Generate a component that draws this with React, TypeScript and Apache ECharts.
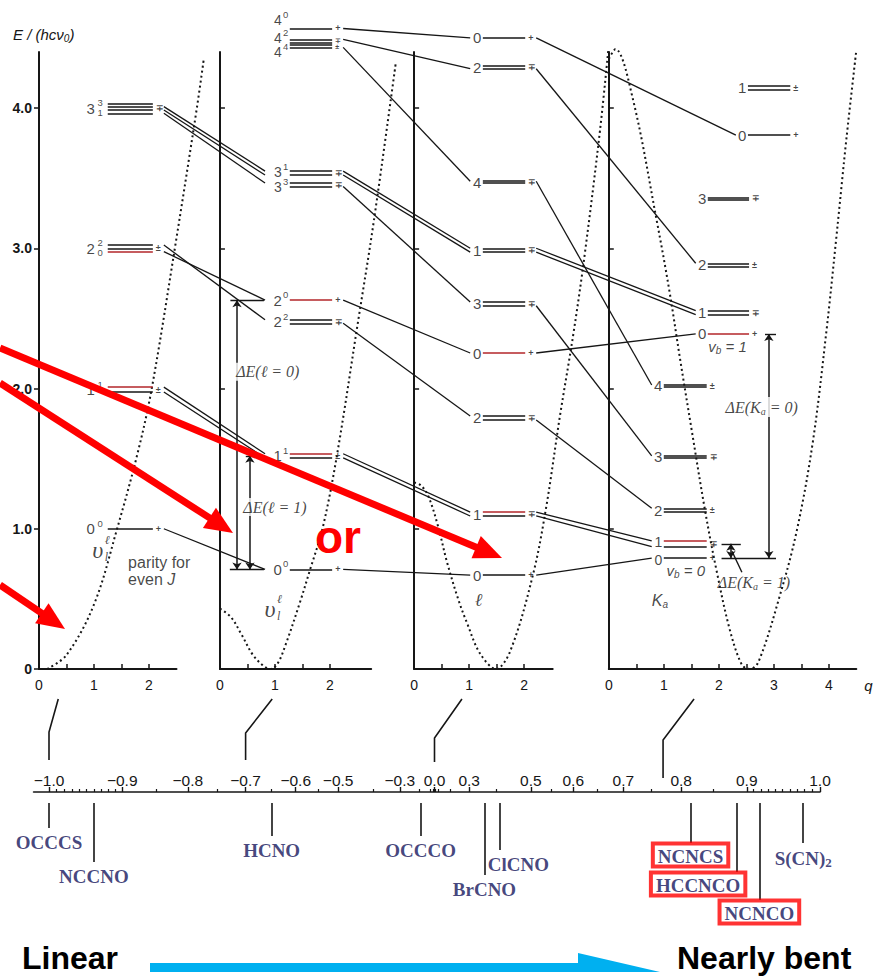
import React, { useEffect, useRef } from 'react';
import * as echarts from 'echarts';

// ---------- data ----------
type Level = { n: string; sup?: string; sub?: string; e: number[]; red?: number[]; parity: string; col?: number };

// Linear limit (γ0 = −1): levels v_l^ℓ, components listed top → bottom, energies in hcν0
const linearLevels: Level[] = [
  { n: '0', sup: '0', e: [1.0], parity: '+' },
  { n: '1', sup: '1', e: [2.01, 1.975], red: [0], parity: '±' },
  { n: '2', sup: '2', sub: '0', e: [3.023, 3.0, 2.976], red: [2], parity: '±' },
  { n: '3', sup: '3', sub: '1', e: [4.033, 4.01, 3.986, 3.962], parity: '∓' },
];

// Quasilinear (γ0 = −0.7)
const quasiLinearLevels: Level[] = [
  { n: '0', sup: '0', e: [0.71], parity: '+' },
  { n: '1', sup: '1', e: [1.535, 1.505], red: [0], parity: '±' },
  { n: '2', sup: '0', e: [2.63], red: [0], parity: '+' },
  { n: '2', sup: '2', e: [2.49, 2.465], parity: '∓' },
  { n: '3', sup: '1', e: [3.55, 3.522], parity: '∓' },
  { n: '3', sup: '3', e: [3.465, 3.44], parity: '∓' },
  { n: '4', sup: '0', e: [4.567], parity: '+' },
  { n: '4', sup: '2', e: [4.49, 4.468], parity: '∓' },
  { n: '4', sup: '4', e: [4.449, 4.432], parity: '±' },
];

// Midway (γ0 = 0), labelled by ℓ
const midwayLevels: Level[] = [
  { n: '0', e: [4.5], parity: '+' },
  { n: '2', e: [4.3, 4.28], parity: '∓' },
  { n: '4', e: [3.478, 3.464], parity: '∓' },
  { n: '1', e: [3.0, 2.972], parity: '∓' },
  { n: '3', e: [2.617, 2.59], parity: '∓' },
  { n: '0', e: [2.253], red: [0], parity: '+' },
  { n: '2', e: [1.804, 1.776], parity: '∓' },
  { n: '1', e: [1.119, 1.091], red: [0], parity: '∓' },
  { n: '0', e: [0.67], parity: '+' },
];

// Quasibent (γ0 ≈ 0.77), labelled by Ka, columns v_b = 0, 1, 2
const bentLevels: Level[] = [
  { n: '1', e: [4.16, 4.128], parity: '±', col: 2 },
  { n: '0', e: [3.807], parity: '+', col: 2 },
  { n: '3', e: [3.363, 3.349], parity: '∓', col: 1 },
  { n: '2', e: [2.893, 2.87], parity: '±', col: 1 },
  { n: '1', e: [2.555, 2.527], parity: '∓', col: 1 },
  { n: '0', e: [2.389], red: [0], parity: '+', col: 1 },
  { n: '4', e: [2.025, 2.012], parity: '±', col: 0 },
  { n: '3', e: [1.52, 1.507], parity: '∓', col: 0 },
  { n: '2', e: [1.146, 1.12], parity: '±', col: 0 },
  { n: '1', e: [0.913, 0.872], red: [0], parity: '∓', col: 0 },
  { n: '0', e: [0.791], parity: '+', col: 0 },
];

// correlation lines: [from level, from component, to level, to component]
const links12 = [[0, 0, 0, 0], [1, 0, 1, 0], [1, 1, 1, 1], [2, 0, 3, 0], [2, 2, 2, 0], [3, 1, 4, 0], [3, 2, 4, 1], [3, 3, 5, 0]];
const links23 = [[6, 0, 0, 0], [7, 0, 1, 1], [8, 1, 2, 0], [4, 0, 3, 0], [4, 1, 3, 1], [5, 1, 4, 0], [2, 0, 5, 0], [3, 1, 6, 0], [1, 0, 7, 0], [1, 1, 7, 1], [0, 0, 8, 0]];
const links34 = [[0, 0, 1, 0], [1, 1, 3, 0], [2, 0, 6, 0], [3, 0, 4, 0], [3, 1, 4, 1], [4, 1, 7, 0], [5, 0, 5, 0], [6, 1, 8, 0], [7, 0, 9, 0], [7, 1, 9, 1], [8, 0, 10, 0]];

// bending potentials V(q)
const linearPotQ = [0.15, 0.5, 1.0, 1.42, 1.8, 2.05, 2.47, 2.87, 3.0];
const linearPotV = [0, 0.1, 0.46, 1.0, 1.55, 2.0, 3.0, 4.0, 4.36];
const quasiLinearPotQ = [0, 0.2, 0.4, 0.6, 0.8, 0.92, 1.05, 1.2, 1.45, 1.64, 1.87, 2.13, 2.5, 2.8, 3.2];
const quasiLinearPotV = [0.43, 0.37, 0.24, 0.1, 0.02, 0, 0.04, 0.18, 0.47, 0.71, 1.01, 1.53, 2.45, 3.2, 4.33];
const midwayPotQ = [0, 0.12, 0.25, 0.42, 0.6, 0.8, 0.96, 1.2, 1.49, 1.75, 2.16, 2.4, 2.65, 2.9, 3.1, 3.38, 3.53];
const midwayPotV = [1.33, 1.31, 1.24, 1.04, 0.76, 0.5, 0.33, 0.11, 0, 0.13, 0.67, 1.15, 1.8, 2.4, 2.95, 3.84, 4.41];
const bentPotQ = [0, 0.12, 0.44, 0.87, 1.1, 1.3, 1.5, 1.75, 1.96, 2.2, 2.42, 2.56, 2.72, 3.1, 3.42, 3.71, 3.96, 4.13, 4.32, 4.5];
const bentPotV = [4.35, 4.42, 4.06, 3.2, 2.7, 2.2, 1.72, 1.13, 0.7, 0.28, 0.03, 0, 0.05, 0.51, 0.99, 1.62, 2.42, 3.05, 3.78, 4.41];

// quasilinearity parameter γ0 scale
const gammaLabels = [-1.0, -0.9, -0.8, -0.7, -0.6, -0.5, -0.3, 0.0, 0.3, 0.5, 0.6, 0.7, 0.8, 0.9, 1.0];
const gammaMinor = [
  -0.99, -0.98, -0.97, -0.96, -0.95, -0.94, -0.93, -0.92, -0.91,
  -0.85, -0.75, -0.65, -0.55, -0.4, -0.2, -0.1, -0.05,
  0.05, 0.1, 0.2, 0.4, 0.55, 0.65, 0.75, 0.85,
  0.91, 0.92, 0.93, 0.94, 0.95, 0.96, 0.97, 0.98, 0.99,
];
const molecules = ['OCCCS', 'NCCNO', 'HCNO', 'OCCCO', 'BrCNO', 'ClCNO', 'NCNCS', 'HCCNCO', 'NCNCO', 'S(CN)2'];
const moleculeGamma = [-1.0, -0.94, -0.65, -0.19, 0.36, 0.41, 0.815, 0.886, 0.918, 0.978];
const highlighted = ['NCNCS', 'HCCNCO', 'NCNCO'];
const panelGamma = [-1.0, -0.7, 0.0, 0.77];

// ---------- layout ----------
const FONT = 'Liberation Sans, Arial, Helvetica, sans-serif';
const SERIF = 'Liberation Serif, Times New Roman, serif';
const INK = '#161616';
const LEVEL_RED = '#b3262a';
const NAVY = '#15155c';

const X0 = 39, Y0 = 669, PX = 55, PE = 140.25;
const PANEL_OFF = [0, 3.29, 6.82, 10.36];
const PANEL_QMAX = [2.5, 2.75, 2.52, 4.5];
const PANEL_TICKS = [[0, 0.5, 1, 1.5, 2], [0, 0.5, 1, 1.5, 2], [0, 0.5, 1, 1.5, 2], [0, 0.5, 1, 1.5, 2, 2.5, 3, 3.5, 4]];
const PANEL_NUMS = [[0, 1, 2], [0, 1, 2], [0, 1, 2], [0, 1, 2, 3, 4]];
const E_TOP = 4.4, OVER_G = 15, OVER_E = 4.75;
const COLS = [[[1.25, 2.07]], [[1.27, 2.04]], [[1.25, 2.02]], [[1.0, 1.78], [1.8, 2.55], [2.53, 3.3]]];
const LINK_START = 0.2;
const LINK_END_GAP = [0.45, 0.45, 0.23, 0.22];
const MAIN_DX = [-13, -8, -1.5, -1.5];
const SUP_DX = [-5, -1.5];
const LABEL_NUDGE: Record<string, number> = { '1-4': -1.5, '1-5': 2, '1-6': -8, '1-7': -3, '1-8': 6, '3-9': -1.5, '3-10': 1.5 };
const SMALL_LABELS = ['1-4', '1-5', '1-6', '1-7', '1-8', '3-9', '3-10'];
const G_C = 434.5, G_H = 385.5, G_MIN = -1.04, G_MAX = 1.0, G_TOP = 792, G_DEPTH = 140;
const MOL_DROP = [36, 70, 44, 44, 83, 58, 51, 80, 108, 51];
const MOL_SHIFT = [0, 0, 0, 0, 0, 19, 0, -39, 0, 0];
const LEADER_TOP_Q = [0.35, 0.95, 0.87, 1.55];
const LEADER_KNEE = [63, 64, 69, 71];
const LEADER_END = [32, 32, 30, 14];
const PARITY_MERGE_PX = 9;

const panels = [linearLevels, quasiLinearLevels, midwayLevels, bentLevels];
const panelLinks = [links12, links23, links34];
const potentials = [
  [linearPotQ, linearPotV],
  [quasiLinearPotQ, quasiLinearPotV],
  [midwayPotQ, midwayPotV],
  [bentPotQ, bentPotV],
];

const gOf = (p: number, q: number) => PANEL_OFF[p] + q;
const sOf = (g: number) => Math.sign(g) * g * g; // scale is linear in γ|γ|
const colOf = (p: number, lv: Level) => COLS[p][lv.col ?? 0];
const mid = (lv: Level) => lv.e.reduce((a, b) => a + b, 0) / lv.e.length;
const fmtGamma = (s: number) => {
  const g = Math.sign(s) * Math.sqrt(Math.abs(s));
  const t = Math.abs(g).toFixed(1);
  return g < -1e-9 ? '−' + t : t;
};

function textItem(x: number, y: number, text: string, o: any = {}) {
  return {
    value: [x, y],
    label: {
      show: true,
      position: 'inside',
      formatter: text,
      align: o.align ?? 'center',
      verticalAlign: 'middle',
      offset: [o.dx ?? 0, o.dy ?? 0],
      fontSize: o.size ?? 15,
      fontFamily: o.family ?? FONT,
      fontStyle: o.italic ? 'italic' : 'normal',
      fontWeight: o.bold ? 'bold' : 'normal',
      color: o.color ?? INK,
      backgroundColor: o.bg,
      padding: o.bg ? [1, 2] : 0,
      lineHeight: o.lineHeight,
      rich: o.rich,
    },
  };
}

function buildOption() {
  const levelBlack: any[] = [];
  const levelRed: any[] = [];
  const texts: any[] = [];
  const parities: { g: number; e: number; t: string }[] = [];
  const T = (p: number, q: number, e: number, text: string, o: any = {}) => texts.push(textItem(gOf(p, q), e, text, o));

  panels.forEach((lvls, p) =>
    lvls.forEach((lv, i) => {
      const [a, b] = colOf(p, lv);
      lv.e.forEach((e, k) => {
        const item = { coords: [[gOf(p, a), e], [gOf(p, b), e]] };
        (lv.red && lv.red.includes(k) ? levelRed : levelBlack).push(item);
      });
      const em = mid(lv);
      const key = `${p}-${i}`;
      const dy = LABEL_NUDGE[key] ?? 0;
      const small = SMALL_LABELS.includes(key);
      T(p, a, em, lv.n, { align: 'right', dx: MAIN_DX[p], dy, size: small ? 14 : 15, lineHeight: small ? 12 : undefined });
      if (lv.sup) T(p, a, em, lv.sup, { align: 'right', dx: SUP_DX[p], dy: dy - 5.5, size: 9.5 });
      if (lv.sub) T(p, a, em, lv.sub, { align: 'right', dx: SUP_DX[p], dy: dy + 4.5, size: 9.5 });
      parities.push({ g: gOf(p, b), e: em, t: lv.parity });
    })
  );

  // parity marks; marks closer than a few pixels share one stacked text
  parities.sort((u, v) => (u.g - v.g) || (v.e - u.e));
  const groups: { g: number; es: number[]; ts: string[] }[] = [];
  parities.forEach((m) => {
    const last = groups[groups.length - 1];
    if (last && Math.abs(last.g - m.g) < 1e-6 && (last.es[last.es.length - 1] - m.e) * PE < PARITY_MERGE_PX) {
      last.es.push(m.e);
      last.ts.push(m.t);
    } else groups.push({ g: m.g, es: [m.e], ts: [m.t] });
  });
  groups.forEach((gr) => {
    const e = gr.es.reduce((a, b) => a + b, 0) / gr.es.length;
    const stacked = gr.ts.length > 1;
    texts.push(textItem(gr.g, e, gr.ts.join('\n'), { align: 'left', dx: 3, size: stacked ? 7 : 9, lineHeight: stacked ? 6 : 9, bold: true }));
  });

  // correlation lines between panels
  const linkData: any[] = [];
  panelLinks.forEach((links, p) =>
    links.forEach(([i, a, j, b]) => {
      const from = panels[p][i];
      const to = panels[p + 1][j];
      const x1 = gOf(p, colOf(p, from)[1] + LINK_START);
      const x2 = gOf(p + 1, colOf(p + 1, to)[0] - LINK_END_GAP[p + 1]);
      linkData.push({ coords: [[x1, from.e[a]], [x2, to.e[b]]] });
    })
  );

  // ΔE markers
  const q2 = quasiLinearLevels;
  const b4 = bentLevels;
  const dArrows = [
    { coords: [[gOf(1, 0.31), mid(q2[2])], [gOf(1, 0.31), mid(q2[0])]] },
    { coords: [[gOf(1, 0.545), mid(q2[1])], [gOf(1, 0.545), mid(q2[0])]] },
    { coords: [[gOf(3, 2.91), mid(b4[5])], [gOf(3, 2.91), mid(b4[10])]] },
    { coords: [[gOf(3, 2.22), mid(b4[9])], [gOf(3, 2.22), mid(b4[10])]] },
  ];
  const dBars = [
    { coords: [[gOf(1, 0.19), mid(q2[2])], [gOf(1, 0.8), mid(q2[2])]] },
    { coords: [[gOf(1, 0.18), mid(q2[0])], [gOf(1, 0.8), mid(q2[0])]] },
    { coords: [[gOf(1, 0.47), mid(q2[1])], [gOf(1, 0.62), mid(q2[1])]] },
    { coords: [[gOf(3, 2.84), mid(b4[5])], [gOf(3, 3.04), mid(b4[5])]] },
    { coords: [[gOf(3, 2.05), mid(b4[10])], [gOf(3, 3.04), mid(b4[10])]] },
    { coords: [[gOf(3, 2.05), mid(b4[9])], [gOf(3, 2.4), mid(b4[9])]] },
    { coords: [[gOf(3, 2.42), 0.69], [gOf(3, 2.24), 0.84]] },
  ];

  const subRich = {
    sb: { fontSize: 10, fontFamily: SERIF, fontStyle: 'italic', padding: [8, 0, 0, 0], color: INK },
  };
  T(1, 0.87, 2.12, 'ΔE(ℓ = 0)', { family: SERIF, italic: true, size: 16, bg: '#fff' });
  T(1, 1.0, 1.155, 'ΔE(ℓ = 1)', { family: SERIF, italic: true, size: 16, bg: '#fff' });
  T(3, 2.78, 1.868, 'ΔE(K{sb|a} = 0)', { family: SERIF, italic: true, size: 16, bg: '#fff', rich: subRich });
  T(3, 2.64, 0.62, 'ΔE(K{sb|a} = 1)', { family: SERIF, italic: true, size: 16, rich: subRich });
  const vRich = { sb: { fontSize: 10, fontStyle: 'italic', padding: [8, 0, 0, 0], color: INK } };
  T(3, 2.16, 2.3, 'v{sb|b} = 1', { italic: true, size: 15, rich: vRich });
  T(3, 1.4, 0.7, 'v{sb|b} = 0', { italic: true, size: 15, rich: vRich });
  T(3, 0.93, 0.49, 'K{sb|a}', { italic: true, size: 16, rich: vRich });
  T(2, 1.17, 0.49, 'ℓ', { family: SERIF, italic: true, size: 18 });
  [[0, 1.07, 0.85], [1, 0.91, 0.43]].forEach(([p, q, e]) => {
    T(p, q, e, 'υ', { family: SERIF, italic: true, size: 24 });
    T(p, q, e, 'ℓ', { family: SERIF, italic: true, size: 12, align: 'left', dx: 7, dy: -10 });
    T(p, q, e, 'l', { family: SERIF, italic: true, size: 12, align: 'left', dx: 7, dy: 7 });
  });
  T(0, 1.62, 0.756, 'parity for', { align: 'left', size: 16 });
  T(0, 1.62, 0.635, 'even {jj|J}', { align: 'left', size: 16, rich: { jj: { fontStyle: 'italic', fontSize: 16, color: INK } } });

  // γ0 scale molecules
  const molLeaders = molecules.map((m, i) => ({ coords: [[sOf(moleculeGamma[i]), 11], [sOf(moleculeGamma[i]), MOL_DROP[i]]] }));
  const molLabels = molecules.map((m, i) => {
    const boxed = highlighted.includes(m);
    return {
      value: [sOf(moleculeGamma[i]), MOL_DROP[i]],
      label: {
        show: true,
        position: 'bottom',
        distance: boxed ? 0 : 4,
        offset: [MOL_SHIFT[i], 0],
        formatter: m === 'S(CN)2' ? 'S(CN){sb|2}' : m,
        fontFamily: SERIF,
        fontWeight: 'bold',
        fontSize: 19,
        color: NAVY,
        borderColor: boxed ? '#ff0000' : undefined,
        borderWidth: boxed ? 4 : 0,
        padding: boxed ? [3, 5, 1, 5] : 0,
        rich: { sb: { fontSize: 13, fontFamily: SERIF, fontWeight: 'bold', color: NAVY, padding: [8, 0, 0, 0] } },
      },
    };
  });

  const grids: any[] = [];
  const xAxes: any[] = [];
  const yAxes: any[] = [];
  const series: any[] = [];

  for (let p = 0; p < 4; p++) {
    grids.push({ left: X0 + PX * PANEL_OFF[p], top: Y0 - PE * E_TOP, width: PX * PANEL_QMAX[p], height: PE * E_TOP });
    xAxes.push({
      gridIndex: p,
      type: 'value',
      min: 0,
      max: PANEL_QMAX[p],
      axisLine: { show: true, onZero: false, lineStyle: { color: INK, width: 2 } },
      axisTick: { show: true, inside: true, length: 5, customValues: PANEL_TICKS[p], lineStyle: { color: INK, width: 1.5 } },
      axisLabel: { show: true, customValues: PANEL_NUMS[p], margin: 9, fontSize: 14, color: INK, fontFamily: FONT },
      splitLine: { show: false },
      name: p === 3 ? 'q' : '',
      nameLocation: 'end',
      nameGap: 8,
      nameTextStyle: { fontStyle: 'italic', fontSize: 15, color: INK, verticalAlign: 'top', padding: [9, 0, 0, 0] },
    });
    yAxes.push({
      gridIndex: p,
      type: 'value',
      min: 0,
      max: E_TOP,
      axisLine: { show: true, onZero: false, lineStyle: { color: INK, width: 2 } },
      axisTick: { show: true, inside: p > 0, length: 5, customValues: p === 0 ? [0, 1, 2, 3, 4] : [1, 2, 3, 4], lineStyle: { color: INK, width: 1.5 } },
      axisLabel: {
        show: p === 0,
        customValues: [0, 1, 2, 3, 4],
        formatter: (v: number) => (v === 0 ? '0' : v.toFixed(1)),
        fontSize: 14,
        fontWeight: 'bold',
        color: INK,
        fontFamily: FONT,
        margin: 7,
      },
      splitLine: { show: false },
    });
  }

  // overlay grid shared by all panels (global q offset per panel)
  grids.push({ left: X0, top: Y0 - PE * OVER_E, width: PX * OVER_G, height: PE * OVER_E });
  xAxes.push({ gridIndex: 4, type: 'value', min: 0, max: OVER_G, show: false });
  yAxes.push({ gridIndex: 4, type: 'value', min: 0, max: OVER_E, show: false });

  // potentials drawn on the overlay so they may rise past each panel's axes
  potentials.forEach(([qs, vs], p) => {
    series.push({
      type: 'line',
      xAxisIndex: 4,
      yAxisIndex: 4,
      data: qs.map((q, k) => [gOf(p, q), vs[k]]),
      smooth: 0.35,
      symbol: 'none',
      clip: false,
      silent: true,
      z: 1,
      lineStyle: { color: INK, width: 2, type: [2, 3] },
    });
  });

  // γ0 scale grid
  grids.push({ left: G_C + G_H * G_MIN, top: G_TOP, width: G_H * (G_MAX - G_MIN), height: G_DEPTH });
  xAxes.push({
    gridIndex: 5,
    type: 'value',
    position: 'top',
    min: G_MIN,
    max: G_MAX,
    axisLine: { show: true, onZero: false, lineStyle: { color: INK, width: 1.6 } },
    axisTick: { show: true, inside: false, length: 5, customValues: gammaLabels.map(sOf), lineStyle: { color: INK, width: 1.4 } },
    axisLabel: { show: true, customValues: gammaLabels.map(sOf), formatter: fmtGamma, margin: 4, fontSize: 15.5, color: INK, fontFamily: FONT },
    splitLine: { show: false },
  });
  xAxes.push({
    gridIndex: 5,
    type: 'value',
    position: 'top',
    offset: 0,
    min: G_MIN,
    max: G_MAX,
    axisLine: { show: false },
    axisTick: { show: true, inside: false, length: 3, customValues: gammaMinor.map(sOf), lineStyle: { color: INK, width: 1.2 } },
    axisLabel: { show: false },
    splitLine: { show: false },
  });
  yAxes.push({ gridIndex: 5, type: 'value', min: 0, max: G_DEPTH, inverse: true, show: false });

  const linesBase = { type: 'lines', coordinateSystem: 'cartesian2d', xAxisIndex: 4, yAxisIndex: 4, silent: true, clip: false };
  series.push({ ...linesBase, z: 2, data: linkData, lineStyle: { color: INK, width: 1.3, opacity: 1, curveness: 0 } });
  series.push({ ...linesBase, z: 3, data: levelBlack, lineStyle: { color: INK, width: 1.5, opacity: 1, curveness: 0 } });
  series.push({ ...linesBase, z: 3, data: levelRed, lineStyle: { color: LEVEL_RED, width: 1.6, opacity: 1, curveness: 0 } });
  series.push({ ...linesBase, z: 4, data: dBars, lineStyle: { color: INK, width: 1.4, opacity: 1, curveness: 0 } });
  series.push({
    ...linesBase,
    z: 4,
    data: dArrows,
    symbol: ['arrow', 'arrow'],
    symbolSize: 7,
    lineStyle: { color: INK, width: 1.5, opacity: 1, curveness: 0 },
  });
  series.push({
    type: 'scatter',
    xAxisIndex: 4,
    yAxisIndex: 4,
    data: texts,
    symbolSize: 1,
    itemStyle: { color: 'rgba(0,0,0,0)' },
    silent: true,
    z: 6,
  });
  series.push({
    type: 'lines',
    coordinateSystem: 'cartesian2d',
    xAxisIndex: 5,
    yAxisIndex: 5,
    data: molLeaders,
    silent: true,
    clip: false,
    z: 2,
    lineStyle: { color: INK, width: 1.6, opacity: 1, curveness: 0 },
  });
  series.push({
    type: 'scatter',
    xAxisIndex: 5,
    yAxisIndex: 5,
    data: molLabels,
    symbolSize: 1,
    itemStyle: { color: 'rgba(0,0,0,0)' },
    silent: true,
    z: 6,
  });

  return {
    animation: false,
    backgroundColor: '#fff',
    textStyle: { fontFamily: FONT },
    grid: grids,
    xAxis: xAxes,
    yAxis: yAxes,
    series,
  };
}

// filled arrow: shaft plus triangular head
function arrowShape(x1: number, y1: number, x2: number, y2: number, color: string, width: number, headLen: number, headHalf: number, z: number) {
  const len = Math.hypot(x2 - x1, y2 - y1);
  const ux = (x2 - x1) / len, uy = (y2 - y1) / len;
  const bx = x2 - ux * headLen, by = y2 - uy * headLen;
  const px = -uy, py = ux;
  return [
    { type: 'line', z, silent: true, shape: { x1, y1, x2: bx + ux * 2, y2: by + uy * 2 }, style: { stroke: color, lineWidth: width } },
    {
      type: 'polygon',
      z,
      silent: true,
      shape: { points: [[x2, y2], [bx + px * headHalf, by + py * headHalf], [bx - px * headHalf, by - py * headHalf]] },
      style: { fill: color },
    },
  ];
}

export default function App() {
  const ref = useRef<HTMLDivElement>(null);
  useEffect(() => {
    if (!ref.current) return;
    const chart = echarts.init(ref.current, null, { renderer: 'svg' });
    chart.setOption(buildOption());

    const graphics: any[] = [];
    // leaders from each panel to its γ0 value
    panelGamma.forEach((gm, p) => {
      const top = chart.convertToPixel({ gridIndex: p } as any, [LEADER_TOP_Q[p], 0]) as unknown as number[];
      const gx = chart.convertToPixel({ xAxisIndex: 5 } as any, sOf(gm)) as unknown as number;
      graphics.push({
        type: 'polyline',
        silent: true,
        shape: { points: [[top[0], top[1] + 30], [gx, top[1] + LEADER_KNEE[p]], [gx, G_TOP - LEADER_END[p]]] },
        style: { stroke: INK, lineWidth: 1.6, fill: null },
      });
    });

    graphics.push({
      type: 'text',
      silent: true,
      style: {
        x: 13,
        y: 34,
        text: 'E / (hcν{sb|0})',
        fontFamily: FONT,
        fontStyle: 'italic',
        fontSize: 15,
        fill: INK,
        verticalAlign: 'middle',
        rich: { sb: { fontSize: 10, fontStyle: 'italic', padding: [8, 0, 0, 0], fill: INK } },
      },
    });

    // red pointers and the "or"
    graphics.push(...arrowShape(0, 348, 502, 558, '#ff0000', 7, 28, 12, 50));
    graphics.push(...arrowShape(0, 383, 233, 533, '#ff0000', 7, 28, 12, 50));
    graphics.push(...arrowShape(0, 585, 65, 629, '#ff0000', 7, 28, 12, 50));
    graphics.push({
      type: 'text',
      silent: true,
      z: 50,
      style: { x: 315, y: 537, text: 'or', fontFamily: FONT, fontWeight: 'bold', fontSize: 46, fill: '#ff0000', verticalAlign: 'middle' },
    });

    // Linear → Nearly bent
    graphics.push({
      type: 'polygon',
      silent: true,
      shape: { points: [[150, 963], [578, 963], [578, 953], [660, 972], [150, 972]] },
      style: { fill: '#00b0f0' },
    });
    graphics.push({
      type: 'text',
      silent: true,
      style: { x: 22, y: 958, text: 'Linear', fontFamily: FONT, fontWeight: 'bold', fontSize: 32, fill: '#000', verticalAlign: 'middle' },
    });
    graphics.push({
      type: 'text',
      silent: true,
      style: { x: 677, y: 958, text: 'Nearly bent', fontFamily: FONT, fontWeight: 'bold', fontSize: 32, fill: '#000', verticalAlign: 'middle' },
    });

    chart.setOption({ graphic: graphics });
    return () => chart.dispose();
  }, []);
  return <div ref={ref} style={{ position: 'absolute', left: 0, top: 0, width: 876, height: 978, background: '#fff' }} />;
}
